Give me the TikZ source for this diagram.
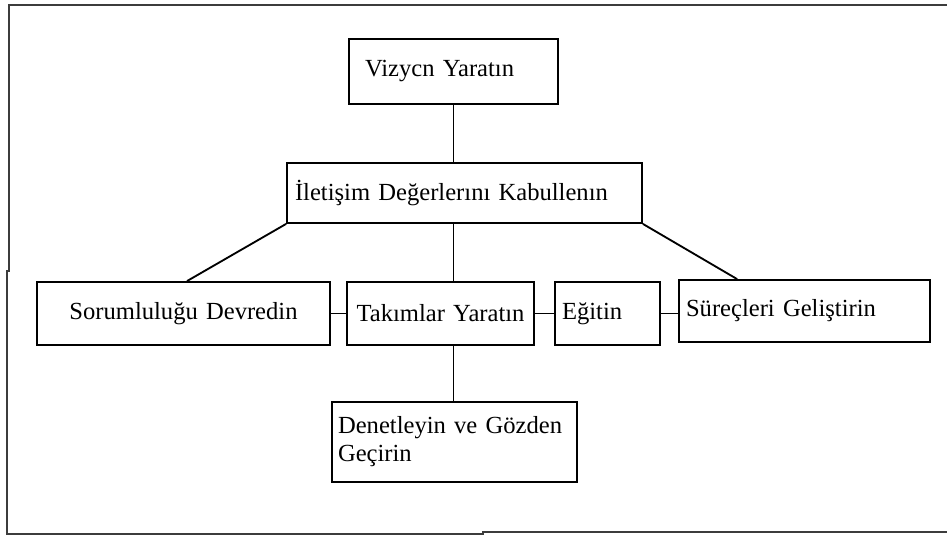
\documentclass[tikz,border=0pt]{standalone}
\usepackage{fontspec}
\setmainfont{Liberation Serif}
\usepackage{xcolor}
\usepackage{tikz}
\usetikzlibrary{calc}
\definecolor{ink}{HTML}{000000}
\definecolor{edge}{HTML}{3C3C3C}
\tikzset{
  box/.style={draw=ink, line width=1.05pt, rectangle, inner ysep=0pt, minimum height=1.26cm,
    font=\fontsize{14}{16}\selectfont},
  boxl/.style={box, align=left},
  boxc/.style={box, align=center},
  link/.style={draw=ink, line width=1.05pt},
  frame/.style={draw=edge, line width=1.4pt, line join=miter},
}

\begin{document}
\begin{tikzpicture}[x=0.02cm,y=-0.02cm]
  \useasboundingbox (0,0) rectangle (947,536);
  \draw[frame] (947,5) -- (9,5) -- (9,271) -- (7,271) -- (7,534) -- (483,534) -- (483,532) -- (947,532);
  \node[boxl, text width=3.54cm, inner xsep=0.32cm, minimum height=1.30cm] (viz) at (453.5,71.5) {Vizycn Yaratın};
  \node[boxl, text width=6.78cm, inner xsep=0.16cm, minimum height=1.20cm] (ilet) at (464.5,193) {İletişim Değerlerını Kabullenın};
  \node[boxc, text width=5.62cm, inner xsep=0.12cm] (sor) at (183.5,313.5) {Sorumluluğu Devredin};
  \node[boxc, text width=3.50cm, inner xsep=0.12cm] (tak) at (440.5,313.5) {Takımlar Yaratın};
  \node[boxl, text width=1.82cm, inner xsep=0.14cm] (egt) at (607.5,313.5) {Eğitin};
  \node[boxl, text width=4.74cm, inner xsep=0.14cm, minimum height=1.24cm] (sur) at (804.5,311) {Süreçleri Geliştirin};
  \node[boxl, text width=4.66cm, inner xsep=0.12cm, minimum height=1.60cm] (den) at (454.5,442) {Denetleyin ve Gözden\\Geçirin};
  \draw[link] (viz.south) -- (viz.south |- ilet.north);
  \draw[link] (viz.south |- ilet.south) -- (viz.south |- tak.north);
  \draw[link] (viz.south |- tak.south) -- (viz.south |- den.north);
  \draw[link] (sor.east) -- (tak.west);
  \draw[link] (tak.east) -- (egt.west);
  \draw[link] (egt.east) -- (egt.east -| sur.west);
  \draw[link] (ilet.south west) -- ([xshift=0.07cm]sor.north);
  \draw[link] (ilet.south east) -- ([xshift=1.18cm]sur.north west);
\end{tikzpicture}
\end{document}
